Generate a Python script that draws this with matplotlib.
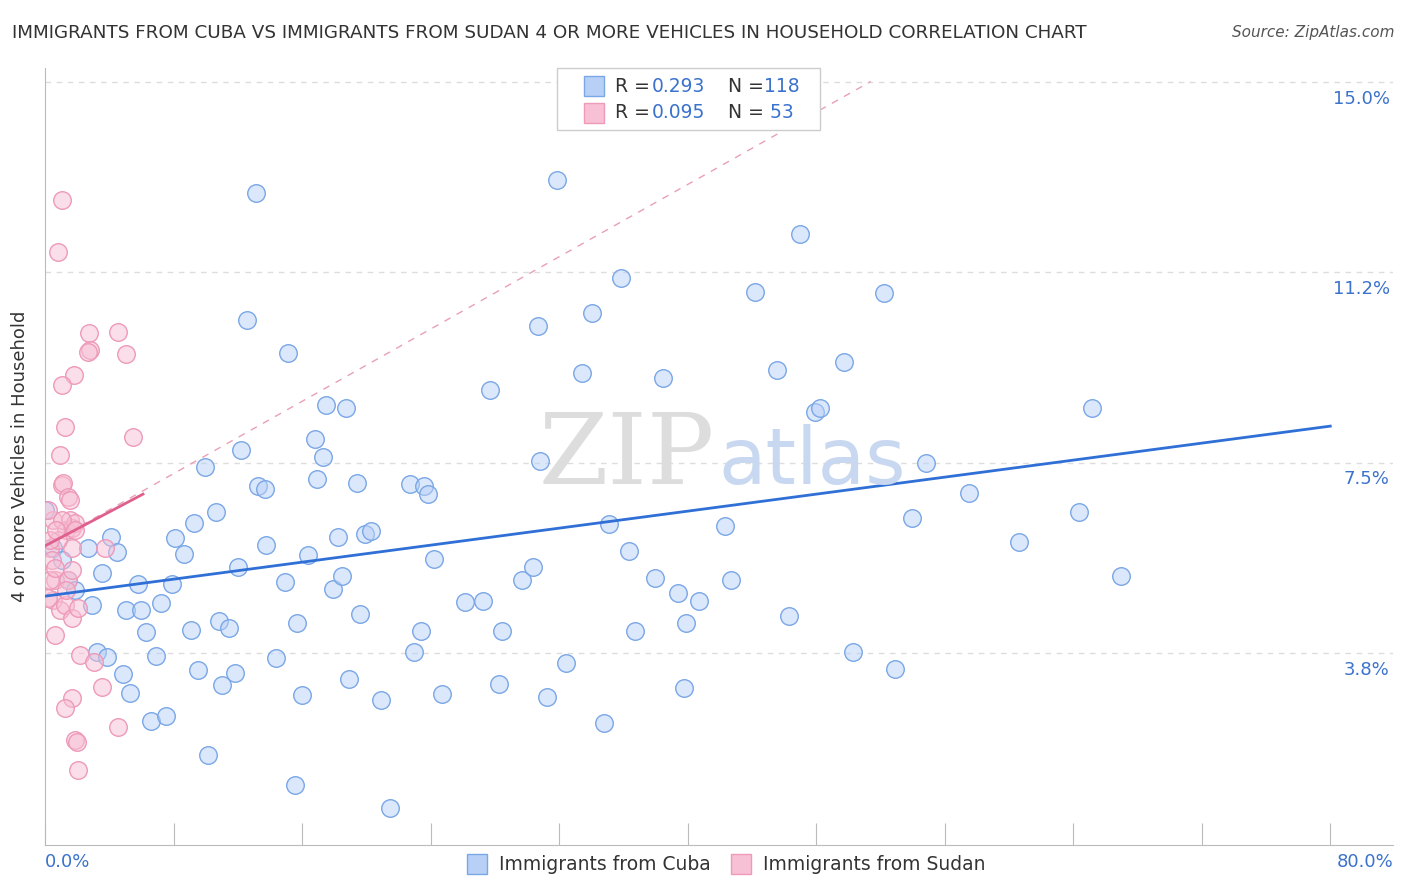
import matplotlib
matplotlib.use("Agg")
import matplotlib.pyplot as plt
import numpy as np

cuba_px = [(45,510),(53,548),(62,560),(68,580),(75,590),(88,548),(92,605),(97,652),(102,573),(107,657),(111,537),(117,552),(123,674),(126,610),(130,693),(138,584),(141,610),(146,632),(151,721),(156,656),(161,603),(166,716),(172,584),(175,538),(184,554),(191,630),(194,523),(198,670),(205,467),(208,755),(216,512),(219,621),(222,685),(229,628),(235,673),(238,567),(241,450),(247,320),(256,193),(258,486),(265,489),(266,545),(276,658),(285,582),(288,353),(295,785),(297,623),(302,695),(308,555),(315,439),(317,479),(323,457),(326,405),(333,589),(338,537),(342,576),(346,408),(349,679),(357,483),(360,614),(365,534),(371,531),(381,700),(390,808),(410,484),(414,652),(421,631),(424,486),(428,494),(434,559),(442,694),(465,602),(483,601),(490,390),(499,684),(502,631),(522,580),(533,567),(540,461),(538,326),(547,697),(557,180),(566,663),(582,373),(592,313),(604,723),(609,524),(621,278),(629,551),(635,631),(655,578),(663,378),(678,593),(684,688),(686,623),(699,601),(725,526),(731,580),(755,292),(777,370),(789,616),(800,234),(815,412),(820,408),(844,362),(853,652),(884,293),(895,669),(912,518),(926,463),(969,493),(1019,542),(1079,512),(1092,408),(1121,576)]
sudan_px = [(62,200),(58,252),(53,520),(50,548),(52,560),(55,580),(53,600),(60,610),(60,455),(62,485),(63,483),(65,427),(68,497),(70,520),(66,530),(72,548),(74,375),(62,385),(72,528),(75,523),(68,580),(65,605),(72,618),(78,608),(80,655),(72,698),(65,708),(75,740),(77,742),(78,770),(89,333),(90,350),(88,352),(94,662),(102,687),(105,548),(118,727),(118,332),(126,354),(133,437),(55,635),(48,598),(50,580),(58,540),(48,510),(62,520),(70,500),(75,530),(50,540),(56,530),(66,590),(55,568),(72,570)]

cuba_x = [round((p[0]-45)*80/1285, 2) for p in cuba_px]
cuba_y = [round((843.4-p[1])/50.76, 2) for p in cuba_px]
sudan_x = [round((p[0]-45)*80/1285, 2) for p in sudan_px]
sudan_y = [round((843.4-p[1])/50.76, 2) for p in sudan_px]

cuba_line = (4.87, 8.22)   # y at x=0 and x=80
sudan_line = (5.86, 6.88)  # y at x=0 and x=6.1

fig = plt.figure(figsize=(14.06, 8.92), dpi=100)
ax = fig.add_axes([0.032, 0.0527, 0.9587, 0.8711])
ylo = (843.4-845)/50.76
yhi = (843.4-68)/50.76
ax.set_xlim(0, 83.9)
ax.set_ylim(ylo, yhi)

ax.scatter(cuba_x, cuba_y, s=160, facecolor=(0.72, 0.82, 0.97, 0.5), edgecolor="#7aa7e6", linewidth=1, zorder=3)
ax.scatter(sudan_x, sudan_y, s=160, facecolor=(0.97, 0.75, 0.83, 0.5), edgecolor="#ee9ab8", linewidth=1, zorder=3)

ax.plot([0, 80], cuba_line, color="#2f6fd6", lw=2, zorder=4)
slope = (sudan_line[1]-sudan_line[0])/6.1
ax.plot([0, 6.1], sudan_line, color="#e0608d", lw=2, zorder=4)
xe = 51.4
ax.plot([0, xe], [sudan_line[0], sudan_line[0]+0.178*xe], color="#e8a0b8", lw=1, ls=(0, (5, 5)), zorder=2)

yt = [3.75, 7.5, 11.25, 15.0]
for y in yt:
    ax.axhline(y, color="#dddddd", lw=1, ls=(0, (4, 4)), zorder=1)
ax.set_yticks(yt)
ax.set_yticklabels([])
for y, lab in zip(yt, ["3.8%", "7.5%", "11.2%", "15.0%"]):
    ax.text(83.7, y-0.33, lab, color="#3b72cc", fontsize=13, ha="right", va="center")
ax.tick_params(axis="y", length=0)
ax.set_xticks(np.arange(0, 81, 8))
ax.set_xticklabels([])
ax.tick_params(axis="x", direction="in", length=16, color="#bbbbbb")
for s in ["top", "right"]:
    ax.spines[s].set_visible(False)
for s in ["left", "bottom"]:
    ax.spines[s].set_color("#bbbbbb")

fig.text(45/1406, 1-862/892, "0.0%", color="#3b72cc", fontsize=13, ha="left", va="center")
fig.text(1393/1406, 1-862/892, "80.0%", color="#3b72cc", fontsize=13, ha="right", va="center")
fig.text(12/1406, 1-33/892, "IMMIGRANTS FROM CUBA VS IMMIGRANTS FROM SUDAN 4 OR MORE VEHICLES IN HOUSEHOLD CORRELATION CHART", fontsize=13.2, color="#333333", va="center")
fig.text(1394/1406, 1-33/892, "Source: ZipAtlas.com", fontsize=11, color="#555555", style="italic", ha="right", va="center")
ax.set_ylabel("4 or more Vehicles in Household", fontsize=13, color="#333333", labelpad=8)

fig.text(715/1406, 1-457/892, "ZIP", fontsize=72, color="#dddddd", ha="right", va="center", family="DejaVu Serif", zorder=0)
fig.text(718/1406, 1-462/892, "atlas", fontsize=56, color="#c8d8f0", ha="left", va="center", zorder=0)

# top legend
lx0, ly0 = 557/1406, 1-130/892
fig.patches.append(plt.Rectangle((lx0, ly0), (820-557)/1406, 62/892, transform=fig.transFigure, facecolor="white", edgecolor="#cccccc", lw=1))
for i, (fc, ec, r, n) in enumerate([("#b8d0f6", "#7aa7e6", "0.293", "118"), ("#f8c0d4", "#ee9ab8", "0.095", " 53")]):
    yy = 1-(86+27*i)/892
    fig.patches.append(plt.Rectangle((584/1406, yy-10/892), 20/1406, 20/892, transform=fig.transFigure, facecolor=fc, edgecolor=ec))
    fig.text(615/1406, yy, "R =", fontsize=13.5, color="#333333", va="center")
    fig.text(652/1406, yy, r, fontsize=13.5, color="#3b72cc", va="center")
    fig.text(728/1406, yy, "N =", fontsize=13.5, color="#333333", va="center")
    fig.text(764/1406, yy, n, fontsize=13.5, color="#3b72cc", va="center")

# bottom legend
for x0, fc, ec, lab in [(467, "#b8d0f6", "#7aa7e6", "Immigrants from Cuba"), (731, "#f8c0d4", "#ee9ab8", "Immigrants from Sudan")]:
    yy = 1-864/892
    fig.patches.append(plt.Rectangle((x0/1406, yy-10/892), 20/1406, 20/892, transform=fig.transFigure, facecolor=fc, edgecolor=ec))
    fig.text((x0+32)/1406, yy, lab, fontsize=13.5, color="#333333", va="center")

fig.savefig("out.png", dpi=100)
